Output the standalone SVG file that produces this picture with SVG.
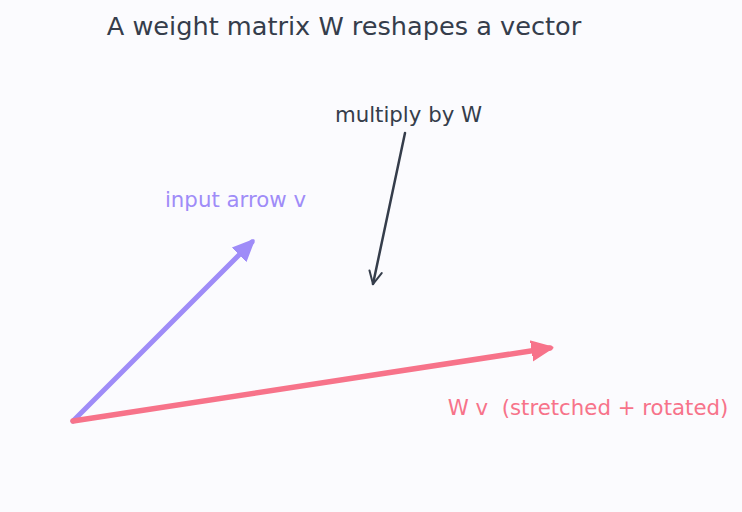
<svg xmlns="http://www.w3.org/2000/svg" width="742" height="512" viewBox="0 0 742 512">
<style>
text{font-family:"DejaVu Sans","Liberation Sans",sans-serif;text-anchor:middle;white-space:pre}
.title{font-size:25.6px;fill:#353d4b}
.lbl{font-size:21.3px}
</style>
<defs>
<marker id="hp" viewBox="0 0 10 10" refX="8" refY="5" markerWidth="4.5" markerHeight="4.5" orient="auto" markerUnits="strokeWidth"><path d="M0,1 L9,5 L0,9 Z" fill="#9f8cf8" stroke="#9f8cf8" stroke-linejoin="round"/></marker>
<marker id="hr" viewBox="0 0 10 10" refX="8" refY="5" markerWidth="4.2" markerHeight="4.2" orient="auto" markerUnits="strokeWidth"><path d="M0,1 L9,5 L0,9 Z" fill="#f7738a" stroke="#f7738a" stroke-linejoin="round"/></marker>
<marker id="hd" viewBox="0 0 12 12" refX="11" refY="6" markerWidth="6" markerHeight="6" orient="auto" markerUnits="strokeWidth"><path d="M1,1 L11,6 L1,11" fill="none" stroke="#353d4b" stroke-width="1.6" stroke-linecap="round"/></marker>
</defs>
<rect width="742" height="512" fill="#fbfbfe"/>
<text class="title" x="344" y="35">A weight matrix W reshapes a vector</text>
<g id="connectors" fill="none" stroke-linecap="round">
<line id="v" x1="73" y1="421" x2="252" y2="242" stroke="#9f8cf8" stroke-width="5" marker-end="url(#hp)"/>
<line id="wv" x1="73" y1="421" x2="550" y2="348" stroke="#f7738a" stroke-width="5.5" marker-end="url(#hr)"/>
<line id="mult" x1="405" y1="133" x2="373" y2="284" stroke="#353d4b" stroke-width="2.5" marker-end="url(#hd)"/>
</g>
<g id="label-multiply"><text class="lbl" x="408.5" y="122" fill="#353d4b">multiply by W</text></g>
<g id="label-input"><text class="lbl" x="235.5" y="207" fill="#9f8cf8">input arrow v</text></g>
<g id="label-wv"><text class="lbl" x="588" y="415" fill="#f7738a">W v  (stretched + rotated)</text></g>
</svg>
